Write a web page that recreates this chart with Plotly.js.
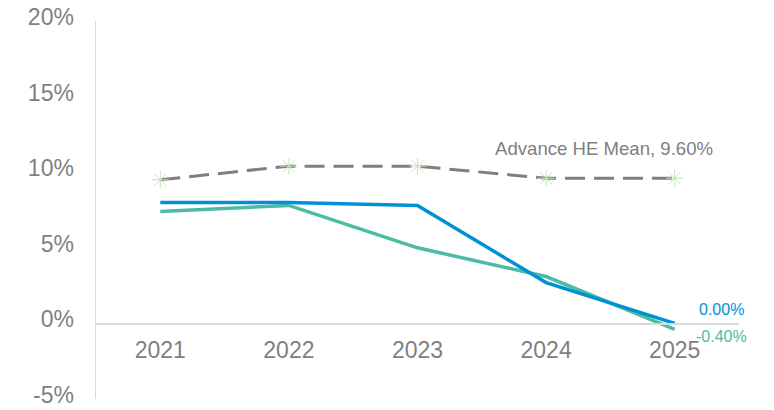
<!DOCTYPE html>
<html><head><meta charset="utf-8">
<script src="https://cdn.plot.ly/plotly-3.0.1.min.js"></script>
<style>html,body{margin:0;padding:0;background:#fff}#chart{width:774px;height:410px}</style>
</head><body><div id="chart"></div>
<script>
const years = ['2021','2022','2023','2024','2025'];
const seriesBlue = [8.0, 8.0, 7.8, 2.7, 0.0];
const seriesTeal = [7.4, 7.8, 5.0, 3.1, -0.4];
const heMean = [9.5, 10.4, 10.4, 9.6, 9.6];
const yTicks = [-5, 0, 5, 10, 15, 20];
const yTickText = yTicks.map(v => v + '%');

const blue = '#0091D5', teal = '#4BBBA6', grey = '#7F7F7F';
const traces = [
  {x: years, y: heMean, mode: 'lines+markers', line: {color: grey, width: 3, dash: '20px,9px'},
   marker: {symbol: 'asterisk-open', size: 14, color: '#C5E3B8', line: {color: '#C5E3B8', width: 1}}},
  {x: years, y: seriesTeal, mode: 'lines', line: {color: teal, width: 3.5}},
  {x: years, y: seriesBlue, mode: 'lines', line: {color: blue, width: 3.5}}
];
const layout = {
  width: 774, height: 410, margin: {l: 96, r: 35, t: 21, b: 11},
  showlegend: false, plot_bgcolor: '#fff', paper_bgcolor: '#fff',
  font: {family: 'Liberation Sans, Arial, sans-serif', color: grey},
  xaxis: {type: 'category', range: [-0.5, 4.5], anchor: 'free', position: 0.2,
    showline: true, linecolor: '#D9D9D9', linewidth: 1.5, showgrid: false, zeroline: false,
    ticks: '', tickfont: {size: 23, color: grey}, ticklabelstandoff: 5},
  yaxis: {range: [-5, 20], tickvals: yTicks, ticktext: yTickText, showgrid: false, zeroline: false,
    showline: true, linecolor: '#D9D9D9', linewidth: 1.5, ticks: '', ticklabeloverflow: 'allow',
    tickfont: {size: 23, color: grey}, ticklabelstandoff: 16, ticklabelshift: -4},
  annotations: [
    {x: 4, y: heMean[4], xref: 'x', yref: 'y', text: 'Advance HE Mean, ' + heMean[4].toFixed(2) + '%',
     showarrow: false, xanchor: 'right', yanchor: 'bottom', xshift: 40, yshift: 17,
     font: {size: 18.6, color: grey}},
    {x: 4, y: seriesBlue[4], xref: 'x', yref: 'y', text: seriesBlue[4].toFixed(2) + '%',
     showarrow: false, xanchor: 'left', yanchor: 'middle', xshift: 22, yshift: 14,
     font: {size: 16, color: blue}},
    {x: 4, y: seriesTeal[4], xref: 'x', yref: 'y', text: seriesTeal[4].toFixed(2) + '%',
     showarrow: false, xanchor: 'left', yanchor: 'middle', xshift: 19, yshift: -7,
     font: {size: 16, color: teal}}
  ]
};
Plotly.newPlot('chart', traces, layout, {displayModeBar: false, staticPlot: true});
</script></body></html>
